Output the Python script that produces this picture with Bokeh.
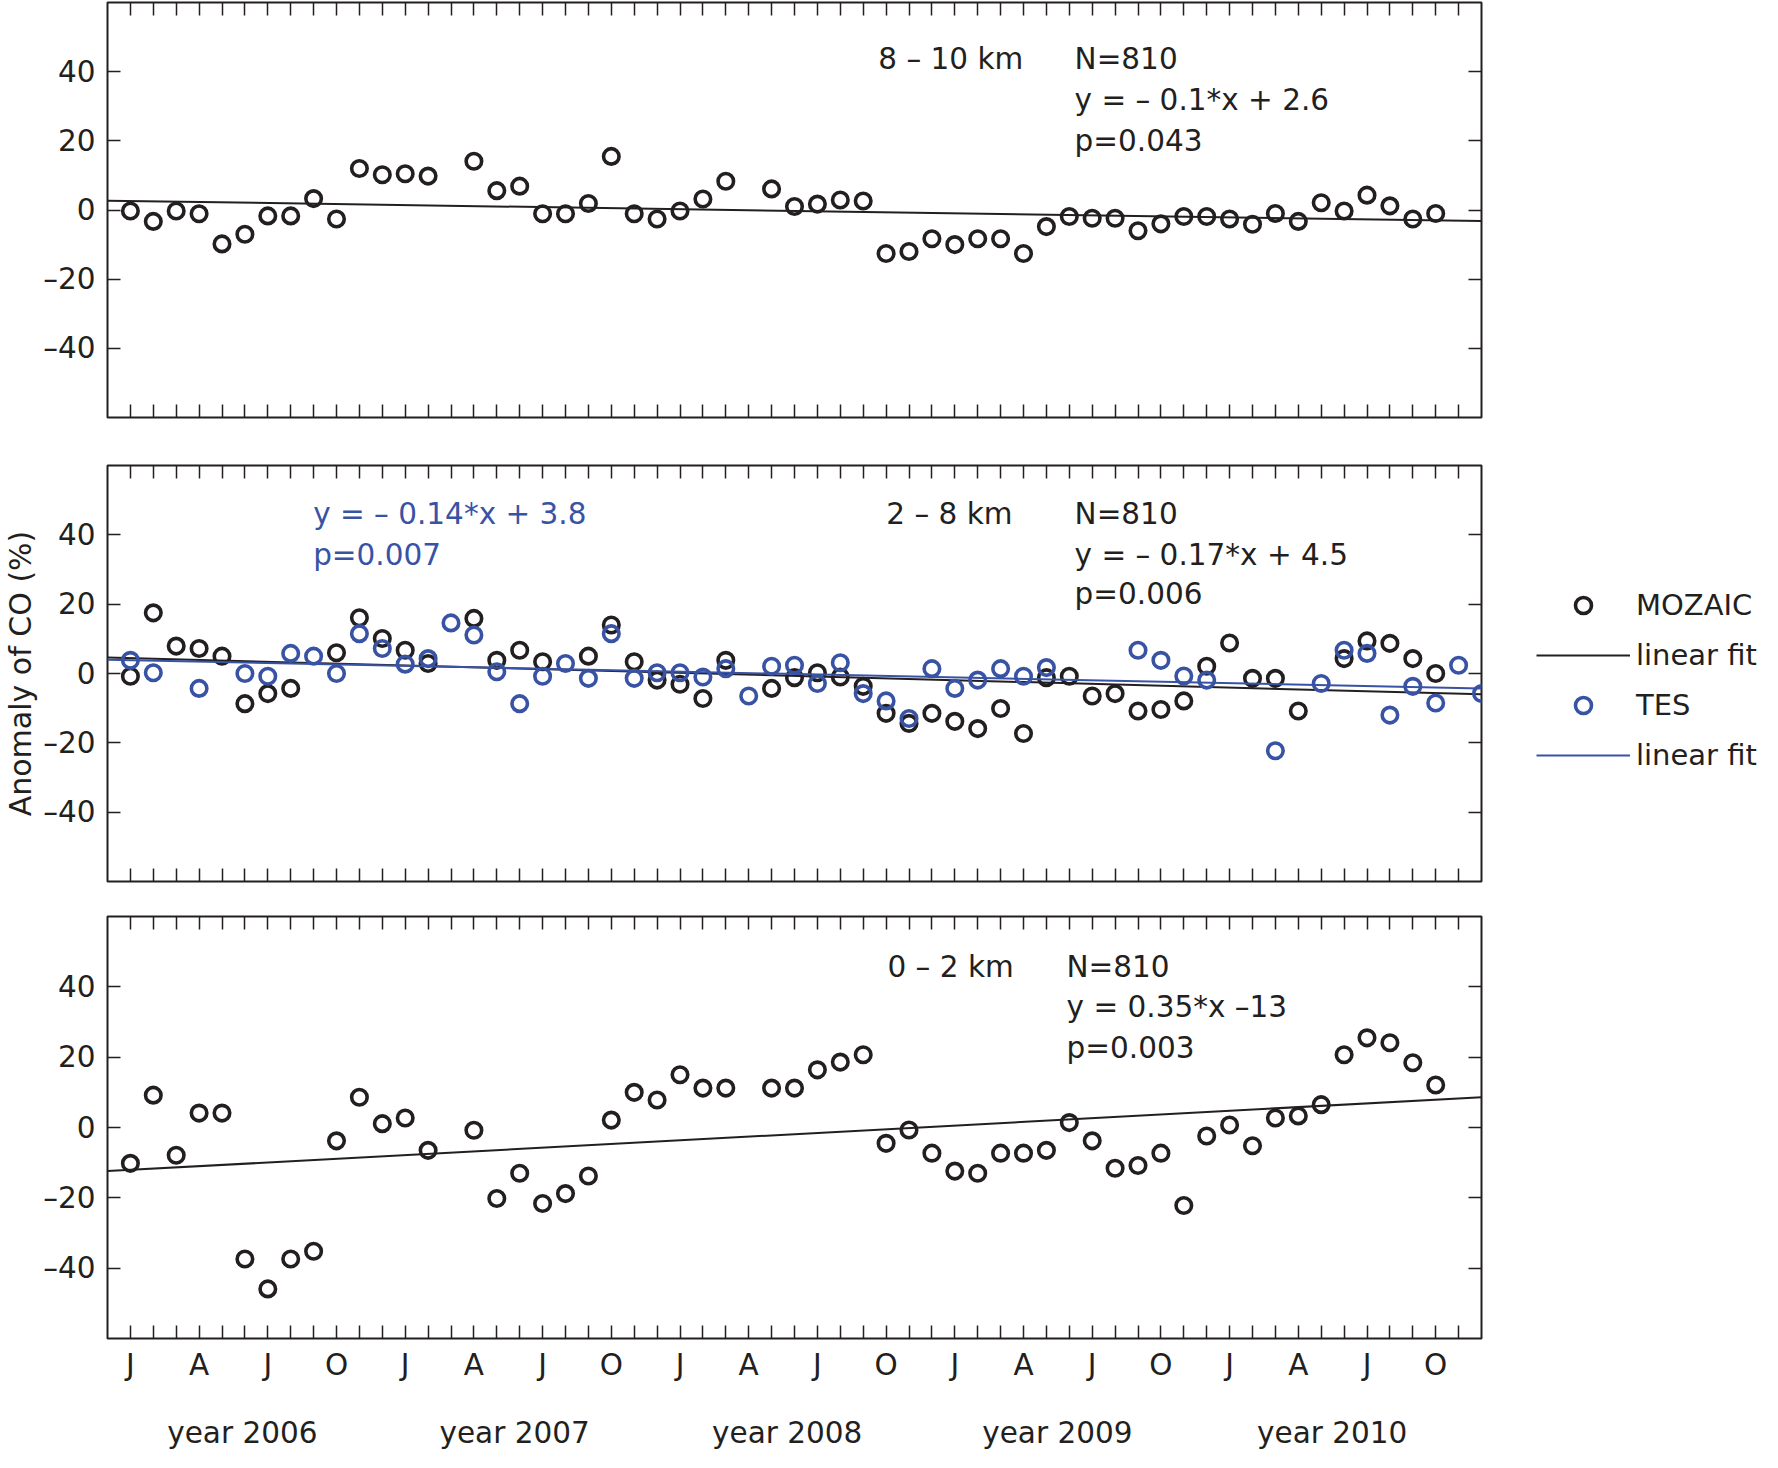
from bokeh.plotting import figure
from bokeh.models import Range1d, LinearAxis, FixedTicker, Label, Legend, LegendItem
from bokeh.layouts import column, row
from bokeh.embed import file_html
from bokeh.resources import INLINE
from bokeh.core.properties import value

nan = float("nan")

# ---------------- data ----------------
months = list(range(1, 61))          # 1 = Jan 2006 ... 60 = Dec 2010

top_mozaic = [-0.3, -3.3, -0.3, -1.1, -9.8, -7.0, -1.7, -1.7, 3.3, -2.6,
              12.0, 10.2, 10.5, 9.8, nan, 14.1, 5.6, 6.9, -1.1, -1.1,
              1.9, 15.5, -1.1, -2.6, -0.3, 3.2, 8.3, nan, 6.1, 1.0,
              1.7, 2.9, 2.6, -12.6, -12.0, -8.3, -10.0, -8.3, -8.3, -12.6,
              -4.8, -1.9, -2.4, -2.4, -6.0, -4.0, -1.9, -1.9, -2.6, -4.1,
              -1.0, -3.3, 2.1, -0.3, 4.3, 1.2, -2.6, -1.0, nan, nan]

mid_mozaic = [-0.8, 17.5, 7.9, 7.2, 5.0, -8.7, -5.8, -4.3, nan, 6.0,
              16.1, 10.1, 6.7, 2.9, nan, 15.9, 3.8, 6.7, 3.4, nan,
              5.0, 14.0, 3.4, -1.9, -3.1, -7.2, 3.8, nan, -4.3, -1.2,
              0.2, -1.0, -3.7, -11.5, -14.4, -11.5, -13.8, -15.9, -10.1, -17.3,
              -1.2, -0.8, -6.5, -5.8, -10.8, -10.4, -7.9, 2.1, 8.8, -1.4,
              -1.4, -10.8, nan, 4.3, 9.4, 8.7, 4.3, 0.0, nan, nan]

mid_tes = [3.8, 0.2, nan, -4.3, nan, 0.0, -0.8, 5.8, 5.0, 0.0,
           11.5, 7.2, 2.7, 4.3, 14.6, 11.1, 0.5, -8.7, -0.8, 2.9,
           -1.4, 11.5, -1.4, 0.2, 0.2, -1.0, 1.4, -6.5, 2.1, 2.4,
           -2.9, 3.1, -5.8, -7.9, -13.0, 1.4, -4.3, -1.9, 1.4, -0.8,
           1.7, nan, nan, nan, 6.7, 3.8, -0.7, -1.9, nan, nan,
           -22.3, nan, -2.9, 6.7, 5.8, -12.0, -3.7, -8.5, 2.4, -5.8]

bot_mozaic = [-10.2, 9.2, -7.9, 4.1, 4.1, -37.4, -45.9, -37.4, -35.2, -3.8,
              8.6, 1.1, 2.7, -6.5, nan, -0.8, -20.2, -13.0, -21.6, -18.8,
              -13.8, 2.1, 10.0, 7.8, 15.0, 11.2, 11.2, nan, 11.2, 11.2,
              16.4, 18.6, 20.7, -4.5, -0.7, -7.3, -12.4, -13.0, -7.3, -7.3,
              -6.5, 1.4, -3.8, -11.6, -10.8, -7.3, -22.2, -2.4, 0.7, -5.2,
              2.7, 3.3, 6.5, 20.7, 25.5, 24.1, 18.4, 12.1, nan, nan]

# linear fits: value at the left and right edge of the time axis
fit_x = [0, 60]
top_fit = [2.7, -3.2]
mid_fit_mozaic = [4.6, -6.0]
mid_fit_tes = [4.0, -4.3]
bot_fit = [-12.4, 8.6]

month_labels = ["J", "A", "J", "O", "J", "A", "J", "O", "J", "A",
                "J", "O", "J", "A", "J", "O", "J", "A", "J", "O"]
year_labels = ["year 2006", "year 2007", "year 2008", "year 2009", "year 2010"]
ytick_values = [-40, -20, 0, 20, 40]
ytick_labels = ["\u201340", "\u201320", "0", "20", "40"]

# ---------------- layout / style ----------------
INK = "#231f20"
BLUE = "#3953a4"
FONT = "DejaVu Sans"
FS = "29.5px"
PW = 1491          # width of the three panels
FL = 102           # frame left
FR = 1481          # frame right

month_ticks = list(range(1, 60))
month_label_pos = list(range(1, 59, 3))
year_pos = [5.89, 17.78, 29.68, 41.48, 53.48]
month_over = {m: "" for m in month_ticks}
month_over.update(dict(zip(month_label_pos, month_labels)))


def ticks_only(ax):
    ax.axis_line_color = None
    ax.major_tick_in = 13
    ax.major_tick_out = 0
    ax.major_tick_line_color = INK
    ax.major_tick_line_width = 1.5
    ax.minor_tick_line_color = None


def no_labels(ax, ticks):
    ax.major_label_overrides = {t: "" for t in ticks}
    ax.major_label_text_font_size = "0px"
    ax.major_label_standoff = 0


def panel(height, top, bottom, bottom_labels=False):
    p = figure(width=PW, height=height, x_range=Range1d(0, 60), y_range=Range1d(-60, 60),
               output_backend="svg", toolbar_location=None,
               x_axis_location=None, y_axis_location=None,
               min_border_left=FL, min_border_right=PW - FR,
               min_border_top=top, min_border_bottom=bottom)
    for g in p.grid:
        g.visible = False
    p.outline_line_color = INK
    p.outline_line_width = 2
    p.background_fill_color = "white"
    p.border_fill_color = "white"

    left = LinearAxis(ticker=FixedTicker(ticks=ytick_values),
                      major_label_overrides=dict(zip(ytick_values, ytick_labels)))
    ticks_only(left)
    left.major_label_text_font = FONT
    left.major_label_text_font_size = FS
    left.major_label_text_color = INK
    left.major_label_standoff = 12
    p.add_layout(left, "left")

    right = LinearAxis(ticker=FixedTicker(ticks=ytick_values))
    ticks_only(right)
    no_labels(right, ytick_values)
    p.add_layout(right, "right")

    above = LinearAxis(ticker=FixedTicker(ticks=month_ticks))
    ticks_only(above)
    no_labels(above, month_ticks)
    p.add_layout(above, "above")

    below = LinearAxis(ticker=FixedTicker(ticks=month_ticks))
    ticks_only(below)
    if bottom_labels:
        below.major_label_overrides = month_over
        below.major_label_text_font = FONT
        below.major_label_text_font_size = FS
        below.major_label_text_color = INK
        below.major_label_standoff = 9
    else:
        no_labels(below, month_ticks)
    p.add_layout(below, "below")
    return p, left


def add_text(p, x, y, txt, color=INK):
    p.add_layout(Label(x=x, y=y, text=txt, text_font=FONT, text_font_size=FS,
                       text_color=color, text_baseline="alphabetic", text_align="left"))


def circles(p, y, color, **kw):
    return p.scatter(months, y, marker="circle", size=15.5, fill_color=None,
                     line_color=color, line_width=3.6, **kw)


# ---- top panel: 8-10 km
p1, _ = panel(440, 2, 23)
circles(p1, top_mozaic, INK)
p1.line(fit_x, top_fit, line_color=INK, line_width=2)
add_text(p1, 33.66, 43.8, "8 \u2013 10 km")
add_text(p1, 42.23, 43.8, "N=810")
add_text(p1, 42.23, 31.7, "y = \u2013 0.1*x + 2.6")
add_text(p1, 42.23, 19.9, "p=0.043")

# ---- middle panel: 2-8 km
p2, left2 = panel(456, 25, 15)
left2.axis_label = "Anomaly of CO (%)"
left2.axis_label_text_font = FONT
left2.axis_label_text_font_size = "30px"
left2.axis_label_text_font_style = "normal"
left2.axis_label_text_color = INK
left2.axis_label_standoff = 2
circles(p2, mid_mozaic, INK)
p2.line(fit_x, mid_fit_mozaic, line_color=INK, line_width=2)
circles(p2, mid_tes, BLUE)
p2.line(fit_x, mid_fit_tes, line_color=BLUE, line_width=2)
add_text(p2, 8.98, 45.9, "y = \u2013 0.14*x + 3.8", BLUE)
add_text(p2, 8.98, 34.3, "p=0.007", BLUE)
add_text(p2, 34.01, 45.9, "2 \u2013 8 km")
add_text(p2, 42.23, 45.9, "N=810")
add_text(p2, 42.23, 34.3, "y = \u2013 0.17*x + 4.5")
add_text(p2, 42.23, 22.8, "p=0.006")

# ---- bottom panel: 0-2 km
p3, _ = panel(556, 20, 109, bottom_labels=True)
circles(p3, bot_mozaic, INK)
p3.line(fit_x, bot_fit, line_color=INK, line_width=2)
add_text(p3, 34.06, 45.7, "0 \u2013 2 km")
add_text(p3, 41.88, 45.7, "N=810")
add_text(p3, 41.88, 34.2, "y = 0.35*x \u201313")
add_text(p3, 41.88, 22.6, "p=0.003")

years = LinearAxis(ticker=FixedTicker(ticks=year_pos),
                   major_label_overrides=dict(zip(year_pos, year_labels)))
years.axis_line_color = None
years.major_tick_line_color = None
years.minor_tick_line_color = None
years.major_tick_in = 0
years.major_tick_out = 0
years.major_label_text_font = FONT
years.major_label_text_font_size = FS
years.major_label_text_color = INK
years.major_label_standoff = 31
p3.add_layout(years, "below")

# ---- legend (to the right of the middle panel)
pl = figure(width=1762 - PW, height=1452, x_range=Range1d(0, 1), y_range=Range1d(0, 1),
            output_backend="svg", toolbar_location=None,
            x_axis_location=None, y_axis_location=None,
            min_border=0, min_border_left=0, min_border_right=0,
            min_border_top=0, min_border_bottom=0)
for g in pl.grid:
    g.visible = False
pl.outline_line_color = None
pl.background_fill_color = "white"
pl.border_fill_color = "white"
# hidden copies of the middle-panel renderers, used only for the legend glyphs
lm = circles(pl, mid_mozaic, INK, visible=False)
lmf = pl.line(fit_x, mid_fit_mozaic, line_color=INK, line_width=2, visible=False)
lt = circles(pl, mid_tes, BLUE, visible=False)
ltf = pl.line(fit_x, mid_fit_tes, line_color=BLUE, line_width=2, visible=False)
legend = Legend(items=[LegendItem(label=value("MOZAIC"), renderers=[lm]),
                       LegendItem(label=value("linear fit"), renderers=[lmf]),
                       LegendItem(label=value("TES"), renderers=[lt]),
                       LegendItem(label=value("linear fit"), renderers=[ltf])],
                location=(1536 - PW, 1452 - 775), orientation="vertical",
                glyph_width=94, glyph_height=40, label_height=40, spacing=10,
                label_standoff=6, padding=0, margin=0,
                border_line_color=None, background_fill_color=None,
                inactive_fill_alpha=0.0,
                label_text_font=FONT, label_text_font_size="29px", label_text_color=INK)
pl.add_layout(legend)

layout = row(column(p1, p2, p3, spacing=0), pl, spacing=0)
open("out.html", "w").write(file_html(layout, INLINE))
